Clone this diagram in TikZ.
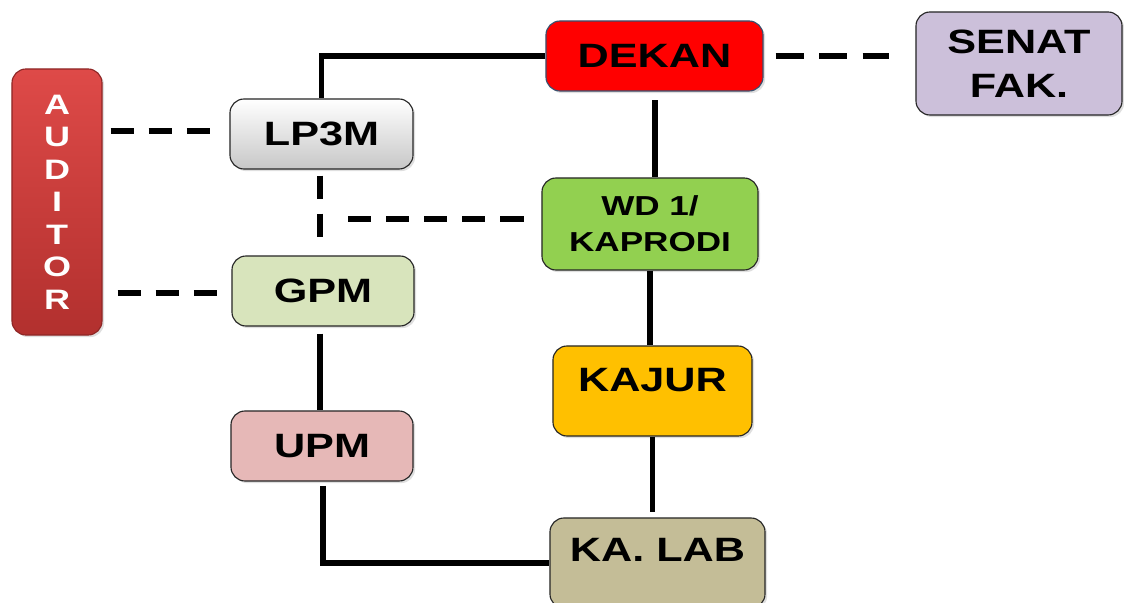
\documentclass[tikz,border=0pt]{standalone}
\usepackage{fontspec}
\setsansfont{Liberation Sans}[FakeStretch=1.28]
\usepackage{tikz}
\usetikzlibrary{positioning}
\usetikzlibrary{calc}
\usetikzlibrary{shadows}
\definecolor{col-dekan}{RGB}{255,0,0}
\definecolor{col-dekanline}{RGB}{56,80,110}
\definecolor{col-senat}{RGB}{204,192,218}
\definecolor{col-auditor-top}{RGB}{222,74,72}
\definecolor{col-auditor-bot}{RGB}{178,48,46}
\definecolor{col-gpm}{RGB}{216,228,188}
\definecolor{col-upm}{RGB}{230,184,183}
\definecolor{col-wd}{RGB}{146,208,80}
\definecolor{col-kajur}{RGB}{255,192,0}
\definecolor{col-kalab}{RGB}{196,189,151}

\begin{document}
\begin{tikzpicture}[x=0.025cm, y=-0.025cm,
box/.style={draw=black!85, line width=0.8pt, rounded corners=10pt, align=center, inner sep=2pt,
  font=\sffamily\bfseries\fontsize{24}{31}\selectfont,
  drop shadow={opacity=0.25, shadow xshift=1.5pt, shadow yshift=-1.5pt}},
one/.style={text height=17pt, text depth=#1}, one/.default=0pt,
link/.style={line width=4pt},
dlink/.style={line width=3.6pt, dash pattern=on 16.4pt off 10.7pt}]

\useasboundingbox (0,0) rectangle (1124,603);

%% boxes
\node [box, one, fill=col-dekan, draw=col-dekanline, minimum width=5.425cm, minimum height=1.75cm] (dekan) at (654.5,56) {DEKAN};
\node [box, fill=col-senat, minimum width=5.15cm, minimum height=2.575cm] (senat) at (1019,63.5) {SENAT\\FAK.};
\node [box, draw=col-auditor-bot!80!black, top color=col-auditor-top, bottom color=col-auditor-bot, text=white,
  font=\sffamily\bfseries\fontsize{20}{23.1}\selectfont, minimum width=2.25cm, minimum height=6.65cm] (auditor) at (57,202) {A\\U\\D\\I\\T\\O\\R};
\node [box, one, top color=white, bottom color=black!22, minimum width=4.575cm, minimum height=1.75cm] (lp3m) at (321.5,134) {LP3M};
\node [box, one, fill=col-gpm, minimum width=4.55cm, minimum height=1.75cm] (gpm) at (323,291) {GPM};
\node [box, one, fill=col-upm, minimum width=4.55cm, minimum height=1.75cm] (upm) at (322,446) {UPM};
\node [box, fill=col-wd, font=\sffamily\bfseries\fontsize{19.5}{25.6}\selectfont, minimum width=5.4cm, minimum height=2.3cm] (wd) at (650,224) {WD 1/\\KAPRODI};
\node [box, one=15.6pt, fill=col-kajur, minimum width=4.975cm, minimum height=2.25cm] (kajur) at (652.5,391) {KAJUR};
\node [box, one=18.5pt, fill=col-kalab, minimum width=5.375cm, minimum height=2.25cm] (kalab) at (657.5,563) {KA. LAB};

\coordinate (jn) at (348,219);
\coordinate (dk) at ($(dekan.south)+(0.5,0)$);
\coordinate (gp) at ($(gpm.south)+(-3,0)$);
\coordinate (up) at ($(upm.south)+(1,0)$);
\coordinate (lp) at ($(lp3m.south)+(-1.5,0)$);
\coordinate (au1) at ($(auditor.east |- lp3m)+(0,-3)$);
\coordinate (au2) at ($(auditor.east |- gpm)+(0,2)$);

%% solid lines
\draw [link] (dekan.west) -| (lp3m.north);
\draw [link, shorten <=6pt] (dk) -- (dk |- wd.north);
\draw [link] (wd.south) -- (wd.south |- kajur.north);
\draw [link, shorten >=4pt] (kajur.south) -- (kajur.south |- kalab.north);
\draw [link, shorten <=5pt] (gp) -- (gp |- upm.north);
\draw [link, shorten <=3pt] (up) |- (kalab.west);

%% dashed lines
\draw [dlink, dash pattern=on 20pt off 11pt, shorten <=8.5pt, shorten >=18.5pt] (dekan.east) -- (dekan.east -| senat.west);
\draw [dlink, shorten <=5.7pt, shorten >=10.7pt] (au1) -- (au1 -| lp3m.west);
\draw [dlink, shorten <=10.7pt, shorten >=8.5pt] (au2) -- (au2 -| gpm.west);
\draw [dlink, shorten <=4.3pt, shorten >=7.8pt] (lp) -- (lp |- gpm.north);
\draw [dlink, shorten >=12pt] (jn) -- (jn -| wd.west);

\end{tikzpicture}
\end{document}
